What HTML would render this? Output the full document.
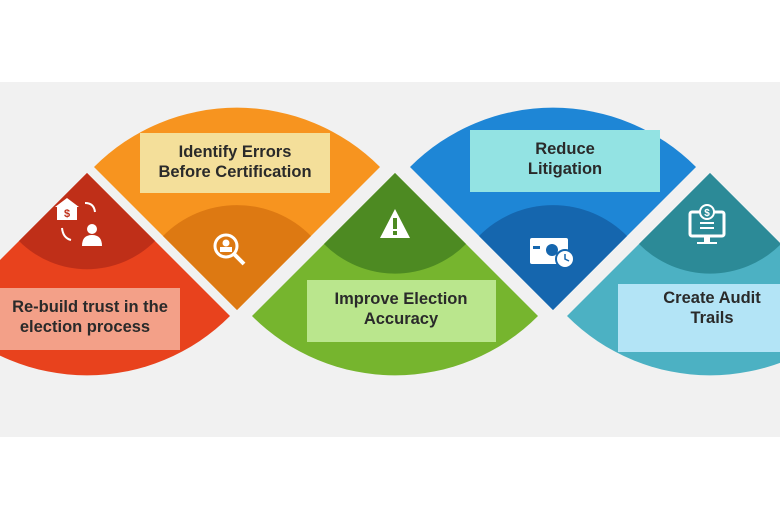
<!DOCTYPE html>
<html><head><meta charset="utf-8"><style>
html,body{margin:0;padding:0;background:#fff;}
svg{display:block;}
text{font-family:"Liberation Sans",Arial,sans-serif;font-weight:bold;font-size:16.5px;fill:#2a2a2a;text-anchor:middle;}
</style></head><body>
<svg width="780" height="516" viewBox="0 0 780 516" xmlns="http://www.w3.org/2000/svg">
<rect x="0" y="0" width="780" height="516" fill="#fff"/>
<rect x="0" y="82" width="780" height="355" fill="#f1f1f1"/>
<path d="M87 173 L230 316 A202 202 0 0 1 -56 316 Z" fill="#e8421d"/>
<path d="M87 173 L155 241 A96 96 0 0 1 19 241 Z" fill="#bf2f18"/>
<path d="M237 310 L94 167 A202 202 0 0 1 380 167 Z" fill="#f7941f"/>
<path d="M237 310 L163 236 A104 104 0 0 1 311 236 Z" fill="#dd7912"/>
<path d="M395 173 L538 316 A202 202 0 0 1 252 316 Z" fill="#76b52e"/>
<path d="M395 173 L466 244 A100 100 0 0 1 324 244 Z" fill="#4d8a22"/>
<path d="M553 310 L410 167 A202 202 0 0 1 696 167 Z" fill="#1e86d6"/>
<path d="M553 310 L479 236 A104 104 0 0 1 627 236 Z" fill="#1566ae"/>
<path d="M710 173 L853 316 A202 202 0 0 1 567 316 Z" fill="#4cb1c3"/>
<path d="M710 173 L781 244 A100 100 0 0 1 639 244 Z" fill="#2c8a97"/>

<rect x="0" y="288" width="180" height="62" fill="#f3a088"/>
<text x="90" y="312">Re-build trust in the</text>
<text x="85" y="332">election process</text>
<rect x="140" y="133" width="190" height="60" fill="#f4df9a"/>
<text x="235" y="157">Identify Errors</text>
<text x="235" y="177">Before Certification</text>
<rect x="307" y="280" width="189" height="62" fill="#bae68d"/>
<text x="401" y="304">Improve Election</text>
<text x="401" y="324">Accuracy</text>
<rect x="470" y="130" width="190" height="62" fill="#93e3e3"/>
<text x="565" y="154">Reduce</text>
<text x="565" y="174">Litigation</text>
<rect x="618" y="284" width="162" height="68" fill="#b3e4f6"/>
<text x="712" y="303">Create Audit</text>
<text x="712" y="323">Trails</text>

<g fill="#fff">
<path d="M55 207 L67 198 L79 207 L77 207 L77 220 L57 220 L57 207 Z"/>
<text x="67" y="217" style="font-size:11px;fill:#bf2f18">$</text>
<circle cx="92" cy="229" r="5"/>
<path d="M82 246 Q82 235 92 235 Q102 235 102 246 Z"/>
<path d="M85 203 Q94 203 95 212" stroke="#fff" stroke-width="2" fill="none"/>
<path d="M62 228 Q63 238 71 240" stroke="#fff" stroke-width="2" fill="none"/>
</g>
<circle cx="226" cy="246" r="11" fill="none" stroke="#fff" stroke-width="3"/>
<circle cx="226" cy="243" r="3.5" fill="#fff"/>
<rect x="220" y="247" width="12" height="5" fill="#fff"/>
<line x1="234" y1="254" x2="244" y2="264" stroke="#fff" stroke-width="4"/>
<path d="M395 209 L410 238 L380 238 Z" fill="#fff"/>
<rect x="393" y="218" width="4" height="11" fill="#4d8a22"/>
<rect x="393" y="231" width="4" height="4" fill="#4d8a22"/>
<rect x="530" y="238" width="38" height="26" rx="2" fill="#fff"/>
<rect x="533" y="246" width="7" height="3" fill="#1566ae"/>
<circle cx="552" cy="250" r="6" fill="#1566ae"/>
<circle cx="565" cy="259" r="9" fill="#fff" stroke="#1566ae" stroke-width="2"/>
<path d="M565 254 L565 259 L569 261" stroke="#1566ae" stroke-width="1.5" fill="none"/>
<rect x="690" y="212" width="34" height="24" rx="2" fill="none" stroke="#fff" stroke-width="3"/>
<circle cx="707" cy="212" r="7" fill="#2c8a97" stroke="#fff" stroke-width="2"/>
<text x="707" y="216" style="font-size:10px;fill:#fff">$</text>
<rect x="700" y="222" width="14" height="2" fill="#fff"/>
<rect x="700" y="227" width="14" height="2" fill="#fff"/>
<rect x="704" y="237" width="6" height="5" fill="#fff"/>
<rect x="697" y="242" width="20" height="2" fill="#fff"/>
</svg>
</body></html>
